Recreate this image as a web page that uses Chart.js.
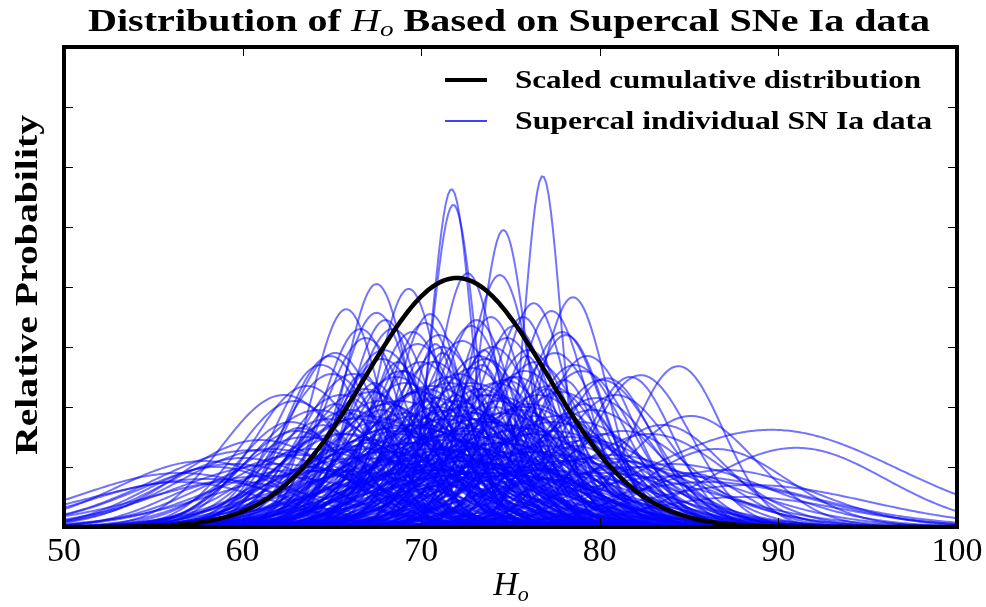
<!DOCTYPE html>
<html lang="en">

<head>
    <meta charset="UTF-8">
    <title>Distribution of Ho - Supercal SNe Ia</title>
    <style>
        body {
            margin: 0;
            background-color: white;
        }

        #chartBox {
            width: 986px;
            height: 607px;
        }
    </style>
</head>

<body>
    <div id="chartBox"><canvas id="hoChart" width="986" height="607"></canvas></div>

    <script src="https://cdn.jsdelivr.net/npm/chart.js"></script>
    <script>
        // Ejes
        const xTicks = [50, 60, 70, 80, 90, 100];
        const yTicks = [1, 2, 3, 4, 5, 6, 7];

        // Distribucion acumulada (centro, ancho, altura)
        const cumMu = 72.0;
        const cumSigma = 5.1;
        const cumPeak = 4.15;

        // Curvas individuales: centro H0, ancho y altura del pico
        const snMu = [
            71.7, 71.8, 76.8, 74.6, 67.5, 69.3, 65.8, 67.5, 62.3, 72.6,
            74.4, 76.3, 78.5, 77.3, 81.7, 84.4, 82.3, 80.4, 85.1, 89.6,
            91.0, 82.0, 57.8, 60.5, 61.6, 62.7, 63.0, 61.0, 59.5, 63.5,
            70.2, 73.1, 68.4, 75.2, 71.0, 66.9, 77.9, 72.3, 69.8, 74.0,
            76.0, 65.2, 79.3, 67.8, 73.6, 70.7, 64.4, 78.6, 72.9, 75.8,
            68.9, 66.2, 71.5, 80.1, 74.7, 69.1, 63.6, 77.2, 73.3, 70.3,
            67.2, 76.6, 65.5, 79.8, 72.0, 74.3, 68.1, 70.9, 66.0, 75.5,
            73.0, 69.6, 77.6, 64.8, 71.3, 78.9, 67.6, 74.9, 72.6, 70.0,
            81.3, 68.7, 76.2, 65.9, 73.8, 71.1, 79.4, 67.0, 74.5, 69.4,
            72.2, 77.0, 64.0, 70.6, 75.9, 68.2, 73.4, 80.7, 66.5, 71.8,
            78.2, 69.0, 74.1, 72.7, 76.9, 70.4, 67.3, 75.0, 70.5, 73.9,
            68.0, 75.7, 72.8, 66.6, 78.1, 69.5, 74.8, 71.2, 64.9, 77.5,
            67.9, 73.2, 70.0, 76.4, 79.0, 65.0, 72.1, 68.6, 75.3, 62.9,
            80.9, 71.6, 74.2, 66.8, 69.9, 77.8, 73.5, 70.8, 67.7, 76.1,
            72.4, 64.2, 79.6, 69.2, 74.6, 71.9, 66.3, 77.4, 73.7, 70.1,
            68.5, 75.6, 72.5, 82.8, 65.4, 78.3, 71.4, 69.7, 74.4, 73.0,
            67.1, 76.7, 70.9, 63.2, 79.9, 72.3, 68.8, 75.4, 71.0, 73.6,
            83.5, 86.5, 84.0, 87.0, 58.5, 60.0, 56.5, 62.0, 65.0, 80.0,
            71.2, 73.4, 69.0, 75.1, 67.4, 77.0, 72.0, 70.4, 74.2, 66.0,
            78.3, 68.2, 72.9, 76.1, 64.5, 70.9, 74.9, 69.7, 79.5, 67.0,
            73.1, 71.5, 65.6, 77.7, 69.3, 75.6, 72.4, 63.8, 80.6, 70.2,
            74.0, 68.3, 76.8, 71.7, 73.5, 70.8, 68.7, 75.9, 66.7, 78.0,
            72.7, 69.6, 74.5, 65.2, 79.1, 71.0, 67.8, 76.4, 73.8, 70.0,
            63.2, 80.2, 68.9, 75.3, 72.2, 66.4, 78.7, 70.6, 74.7, 67.5,
            81.5, 73.0, 69.8, 76.0, 64.7, 71.4, 72.8, 70.6, 74.0, 68.8,
            75.8, 71.9, 67.0, 73.3, 69.2, 77.3, 72.0, 56.5, 58.0, 61.5,
            86.0, 88.5, 84.5, 88.0, 59.0, 63.0, 85.0
        ];
        const snSigma = [
            1.1, 1.2, 1.0, 1.3, 1.8, 1.8, 1.9, 2.1, 3.5, 1.7,
            1.8, 1.9, 1.9, 2.0, 2.4, 2.5, 2.8, 2.6, 3.6, 7.0,
            5.0, 6.0, 4.8, 5.5, 5.0, 3.0, 3.2, 4.5, 5.2, 4.0,
            2.2, 2.1, 2.3, 2.2, 2.4, 2.4, 2.3, 2.5, 2.5, 2.6,
            2.5, 2.6, 2.6, 2.7, 2.7, 2.8, 2.6, 2.8, 2.9, 2.9,
            2.9, 3.0, 3.0, 3.0, 3.0, 3.1, 3.0, 3.1, 3.2, 3.2,
            3.3, 3.3, 3.2, 3.3, 3.4, 3.4, 3.4, 3.5, 3.5, 3.5,
            3.6, 3.7, 3.6, 3.6, 3.8, 3.8, 3.8, 3.9, 4.0, 4.0,
            3.9, 4.1, 4.1, 4.2, 4.3, 4.3, 4.4, 4.4, 4.5, 4.6,
            4.7, 4.7, 4.6, 4.9, 5.0, 5.0, 5.2, 5.1, 5.3, 5.4,
            5.5, 5.6, 5.8, 6.0, 6.1, 6.2, 6.0, 6.5, 1.9, 2.0,
            2.0, 1.9, 2.2, 2.2, 2.2, 2.3, 2.4, 2.6, 2.5, 2.6,
            2.6, 2.8, 2.9, 2.8, 2.9, 2.9, 3.0, 3.1, 3.1, 3.2,
            3.2, 3.3, 3.2, 3.4, 3.4, 3.4, 3.5, 3.6, 3.6, 3.7,
            3.8, 3.7, 3.8, 3.9, 3.9, 4.1, 4.0, 4.1, 4.2, 4.3,
            4.4, 4.4, 4.6, 4.3, 4.5, 4.7, 4.8, 5.0, 5.0, 5.3,
            5.2, 5.4, 5.6, 5.0, 5.6, 5.9, 6.0, 6.2, 6.5, 6.8,
            3.5, 4.0, 5.5, 5.0, 4.0, 4.5, 5.5, 5.8, 6.2, 6.5,
            1.6, 1.7, 1.6, 1.8, 1.9, 1.7, 2.0, 1.8, 2.1, 2.0,
            2.2, 2.3, 2.4, 2.3, 2.3, 2.5, 2.6, 2.6, 2.5, 2.7,
            2.8, 2.7, 2.8, 2.9, 3.0, 3.0, 3.1, 3.0, 3.2, 3.3,
            3.4, 3.5, 3.6, 3.8, 1.5, 1.4, 1.7, 1.6, 1.8, 1.9,
            1.9, 2.1, 2.0, 2.2, 2.1, 2.2, 2.4, 2.4, 2.5, 2.6,
            2.5, 2.6, 2.8, 2.8, 2.9, 3.0, 3.0, 3.2, 3.2, 3.3,
            3.3, 3.5, 3.6, 3.7, 3.6, 3.9, 4.2, 4.0, 4.4, 4.3,
            4.5, 4.8, 4.6, 5.0, 5.1, 5.0, 5.5, 5.0, 6.5, 6.5,
            6.0, 6.5, 7.0, 5.5, 3.5, 5.0, 3.0
        ];
        const snPeak = [
            5.63, 5.37, 5.85, 4.95, 4.05, 3.97, 3.63, 3.57, 2.20, 4.23,
            4.20, 3.73, 3.83, 3.60, 2.50, 2.68, 2.53, 2.48, 1.85, 1.62,
            1.32, 1.00, 1.10, 1.28, 1.30, 1.75, 1.60, 1.45, 1.05, 1.50,
            3.40, 3.45, 3.30, 3.35, 3.20, 3.15, 3.25, 3.10, 3.05, 3.00,
            2.95, 2.90, 2.85, 2.80, 2.80, 2.75, 2.70, 2.70, 2.65, 2.60,
            2.60, 2.55, 2.50, 2.45, 2.45, 2.40, 2.35, 2.35, 2.30, 2.30,
            2.25, 2.20, 2.20, 2.15, 2.10, 2.10, 2.05, 2.00, 1.95, 1.95,
            1.90, 1.85, 1.85, 1.80, 1.80, 1.75, 1.75, 1.70, 1.65, 1.65,
            1.60, 1.60, 1.55, 1.55, 1.50, 1.50, 1.45, 1.45, 1.40, 1.40,
            1.35, 1.35, 1.30, 1.30, 1.25, 1.25, 1.20, 1.20, 1.15, 1.15,
            1.10, 1.10, 1.05, 1.00, 0.95, 0.95, 0.90, 0.85, 3.55, 3.50,
            3.45, 3.50, 3.35, 3.30, 3.20, 3.25, 3.15, 3.00, 2.85, 2.90,
            2.95, 2.85, 2.75, 2.75, 2.60, 2.55, 2.55, 2.50, 2.50, 2.10,
            2.20, 2.40, 2.40, 2.30, 2.25, 2.25, 2.20, 2.15, 2.10, 2.05,
            2.00, 1.95, 1.95, 1.90, 1.90, 1.85, 1.80, 1.75, 1.75, 1.70,
            1.65, 1.65, 1.60, 1.55, 1.55, 1.50, 1.45, 1.40, 1.40, 1.30,
            1.30, 1.25, 1.20, 1.20, 1.15, 1.10, 1.05, 1.00, 0.95, 0.90,
            1.70, 1.30, 1.05, 0.95, 1.00, 1.15, 0.90, 1.05, 0.95, 0.90,
            2.90, 2.70, 2.60, 2.50, 2.40, 2.30, 2.20, 2.10, 2.00, 1.90,
            1.90, 1.80, 1.80, 1.70, 1.70, 1.60, 1.60, 1.50, 1.50, 1.40,
            1.40, 1.30, 1.30, 1.20, 1.20, 1.10, 1.10, 1.00, 1.00, 0.90,
            0.90, 0.80, 0.80, 0.70, 2.95, 3.05, 2.75, 2.85, 2.55, 2.45,
            2.35, 2.25, 2.15, 2.05, 2.05, 1.95, 1.95, 1.85, 1.75, 1.75,
            1.65, 1.55, 1.55, 1.45, 1.45, 1.35, 1.35, 1.25, 1.25, 1.15,
            1.10, 1.05, 1.00, 0.95, 0.95, 0.85, 2.40, 2.35, 2.20, 2.10,
            2.00, 1.95, 1.85, 1.80, 1.70, 1.60, 1.55, 0.75, 0.80, 0.85,
            0.75, 0.70, 0.85, 0.50, 0.75, 0.95, 0.90
        ];

        // Malla de muestreo en H0
        const hGrid = [];
        for (let h = 50; h <= 100.001; h += 0.125) hGrid.push(+h.toFixed(3));

        const gaussCurve = (mu, sigma, peak) =>
            hGrid.map(h => ({ x: h, y: peak * Math.exp(-((h - mu) ** 2) / (2 * sigma * sigma)) }));

        const serif = '"Liberation Serif", "DejaVu Serif", serif';

        // Texto con partes en distintas fuentes, ajustado a un ancho dado
        const drawRun = (ctx, runs, x, y, width, align) => {
            let total = 0;
            runs.forEach(r => { ctx.font = r.font; r.w = ctx.measureText(r.t).width; total += r.w; });
            const s = width ? width / total : 1;
            ctx.save();
            ctx.translate(x, y);
            ctx.scale(s, 1);
            let cx = align === 'center' ? -total / 2 : 0;
            ctx.textAlign = 'left';
            ctx.textBaseline = 'alphabetic';
            runs.forEach(r => { ctx.font = r.font; ctx.fillText(r.t, cx, r.dy || 0); cx += r.w; });
            ctx.restore();
        };

        const decorPlugin = {
            id: 'decor',
            afterDatasetsDraw(chart) {
                const { ctx, chartArea: a, scales: { x, y } } = chart;
                ctx.save();
                ctx.strokeStyle = '#000';
                ctx.fillStyle = '#000';

                // marcas hacia adentro
                ctx.lineWidth = 1;
                ctx.beginPath();
                xTicks.forEach(v => {
                    const px = Math.round(x.getPixelForValue(v)) + 0.5;
                    ctx.moveTo(px, a.bottom); ctx.lineTo(px, a.bottom - 9);
                    ctx.moveTo(px, a.top); ctx.lineTo(px, a.top + 9);
                });
                yTicks.forEach(v => {
                    const py = Math.round(y.getPixelForValue(v)) + 0.5;
                    ctx.moveTo(a.left, py); ctx.lineTo(a.left + 9, py);
                    ctx.moveTo(a.right, py); ctx.lineTo(a.right - 9, py);
                });
                ctx.stroke();

                // marco
                ctx.lineWidth = 4;
                ctx.strokeRect(a.left, a.top, a.right - a.left, a.bottom - a.top);

                // etiquetas del eje x
                ctx.font = '34px ' + serif;
                ctx.textAlign = 'center';
                ctx.textBaseline = 'alphabetic';
                xTicks.forEach(v => ctx.fillText(String(v), x.getPixelForValue(v), 561));

                // leyenda
                ctx.lineWidth = 4;
                ctx.beginPath(); ctx.moveTo(445, 80); ctx.lineTo(487, 80); ctx.stroke();
                ctx.strokeStyle = 'rgba(0, 0, 255, 0.75)';
                ctx.lineWidth = 2;
                ctx.beginPath(); ctx.moveTo(445, 121); ctx.lineTo(487, 121); ctx.stroke();
                const legFont = 'bold 25px ' + serif;
                drawRun(ctx, [{ t: 'Scaled cumulative distribution', font: legFont }], 515, 88, 406);
                drawRun(ctx, [{ t: 'Supercal individual SN Ia data', font: legFont }], 515, 129, 417);

                // titulo
                const tb = 'bold 31px ' + serif;
                drawRun(ctx, [
                    { t: 'Distribution of ', font: tb },
                    { t: 'H', font: 'italic 31px ' + serif },
                    { t: 'o', font: 'italic 21px ' + serif, dy: 5 },
                    { t: ' Based on Supercal SNe Ia data', font: tb }
                ], 88, 31, 842);

                // titulo eje x
                drawRun(ctx, [
                    { t: 'H', font: 'italic 34px ' + serif },
                    { t: 'o', font: 'italic 22px ' + serif, dy: 6 }
                ], 511, 595, 0, 'center');

                // titulo eje y
                ctx.save();
                ctx.translate(37, 285);
                ctx.rotate(-Math.PI / 2);
                drawRun(ctx, [{ t: 'Relative Probability', font: 'bold 32px ' + serif }], 0, 0, 340, 'center');
                ctx.restore();

                ctx.restore();
            }
        };

        const datasets = [{
            label: 'Scaled cumulative distribution',
            data: gaussCurve(cumMu, cumSigma, cumPeak),
            borderColor: '#000',
            borderWidth: 4.5,
            pointRadius: 0
        }];
        snMu.forEach((mu, i) => datasets.push({
            label: 'Supercal individual SN Ia data',
            data: gaussCurve(mu, snSigma[i], snPeak[i]),
            borderColor: 'rgba(0, 0, 255, 0.55)',
            borderWidth: 2,
            pointRadius: 0
        }));

        new Chart(document.getElementById('hoChart'), {
            type: 'line',
            data: { datasets },
            options: {
                responsive: false,
                animation: false,
                events: [],
                layout: { padding: { left: 64, right: 29, top: 47, bottom: 80 } },
                plugins: { legend: { display: false }, tooltip: { enabled: false } },
                scales: {
                    x: { type: 'linear', min: 50, max: 100, display: false },
                    y: { min: 0, max: 8, display: false }
                }
            },
            plugins: [decorPlugin]
        });
    </script>
</body>

</html>
